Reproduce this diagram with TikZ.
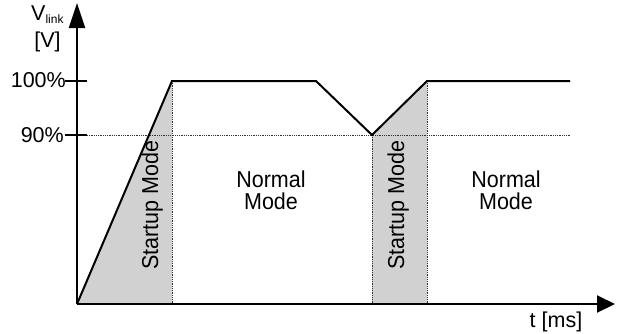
\documentclass[tikz,border=0pt]{standalone}
\usepackage{fontspec}
\setmainfont{Liberation Sans}
\usepackage{graphicx}
\usetikzlibrary{arrows.meta}
\newcommand\talltext[1]{\scalebox{1}[1.07]{#1}}
\begin{document}
\begin{tikzpicture}[x=1pt,y=-1pt,
  curve/.style={line width=2pt, line join=miter},
  axis/.style={line width=2pt},
  guide/.style={dash pattern=on 1pt off 0.8pt, line width=1pt, black!80},
  startfill/.style={fill=black!18, draw=none},
  lbl/.style={font=\fontsize{21.5}{18}\selectfont, inner sep=0pt},
]
\useasboundingbox (0,0) rectangle (618,333);
% key points
\coordinate (O) at (77,304);
\coordinate (ytop) at (77,3);
\coordinate (xend) at (615,304);
\coordinate (r1) at (172,81);
\coordinate (f1) at (316,81);
\coordinate (v1) at (372,135);
\coordinate (r2) at (427,81);
\coordinate (e1) at (570,81);
\coordinate (b1) at (172,304);
\coordinate (b2) at (372,304);
\coordinate (b3) at (427,304);
\coordinate (t100a) at (65,81);
\coordinate (t100b) at (87,81);
\coordinate (t90a) at (65,135);
\coordinate (t90b) at (87,135);
\coordinate (g90e) at (570,135);
% grey startup regions
\fill[startfill] (O) -- (r1) -- (b1) -- cycle;
\fill[startfill] (v1) -- (r2) -- (b3) -- (b2) -- cycle;
% dotted guides
\draw[guide] (t90b) -- (g90e);
\draw[guide] (r1) -- (b1);
\draw[guide] (v1) -- (b2);
\draw[guide] (r2) -- (b3);
% voltage curve
\draw[curve] (O) -- (r1) -- (f1) -- (v1) -- (r2) -- (e1);
% axes
\draw[axis, -{Triangle[length=25pt,width=16pt]}] (O) -- (ytop);
\draw[axis, -{Triangle[length=18pt,width=17pt]}] (O) -- (xend);
\draw[axis] (t100a) -- (t100b);
\draw[axis] (t90a) -- (t90b);
% labels
\node[lbl, anchor=base west] (vl) at (31,20) {V\raisebox{-3pt}{\fontsize{12}{12}\selectfont link}};
\node[lbl, anchor=base] (vu) at (47.5,47.5) {[V]};
\node[lbl, anchor=base east] (p100) at (66,87.5) {100\%};
\node[lbl, anchor=base east] (p90) at (64,142) {90\%};
\node[lbl, anchor=base] (tl) at (556,327.5) {t [ms]};
\node[lbl] (n1) at (271,193) {\talltext{\begin{tabular}{@{}c@{}}Normal\\Mode\end{tabular}}};
\node[lbl] (n2) at (506,193) {\talltext{\begin{tabular}{@{}c@{}}Normal\\Mode\end{tabular}}};
\node[lbl, rotate=90, anchor=base] (s1) at (158,205) {\talltext{Startup Mode}};
\node[lbl, rotate=90, anchor=base] (s2) at (404,205) {\talltext{Startup Mode}};
\end{tikzpicture}
\end{document}
